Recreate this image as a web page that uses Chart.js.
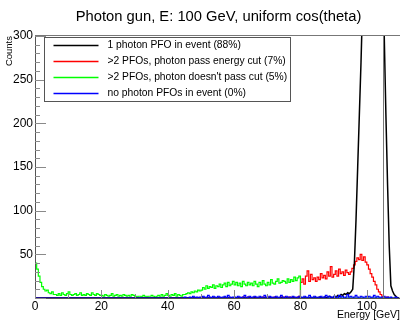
<!DOCTYPE html>
<html>
<head>
<meta charset="utf-8">
<script src="https://cdn.jsdelivr.net/npm/chart.js@4/dist/chart.umd.min.js"></script>
<style>
html,body{margin:0;padding:0;background:#fff;}
canvas{display:block;}
</style>
</head>
<body>
<canvas id="c" width="400" height="320"></canvas>
<script>
// ---- data (histogram, 0.5 GeV bins from 0 to 110 GeV) ----
const titleText = "Photon gun, E: 100 GeV, uniform cos(theta)";
const xTitle = "Energy [GeV]";
const yTitle = "Counts";
const binLow = 0;
const binWidth = 0.5;
const xTickLabels = [0, 20, 40, 60, 80, 100];
const xMinorTicks = [10, 30, 50, 70, 90, 110];
const yTickLabels = [50, 100, 150, 200, 250, 300];
const yMinorTicks = [10,20,30,40,60,70,80,90,110,120,130,140,160,170,180,190,210,220,230,240,260,270,280,290];

const seriesLabels = [
  "1 photon PFO in event (88%)",
  ">2 PFOs, photon pass energy cut (7%)",
  ">2 PFOs, photon doesn't pass cut (5%)",
  "no photon PFOs in event (0%)"
];

const blackCounts = [
  0,0,0,0,0,0,0,0,0,0, 0,0,0,0,0,0,0,0,0,0,
  0,0,0,0,0,0,0,0,0,0, 0,0,0,0,0,0,0,0,0,0,
  0,0,0,0,0,0,0,0,0,0, 0,0,0,0,0,0,0,0,0,0,
  0,0,0,0,0,0,0,0,0,0, 0,0,0,0,0,0,0,0,0,0,
  0,0,0,0,0,0,0,0,0,0, 0,0,0,0,0,0,0,0,0,0,
  0,0,0,0,0,0,0,0,0,0, 0,0,0,0,0,0,0,0,0,0,
  0,0,0,0,0,0,0,0,0,0, 0,0,0,0,0,0,0,0,0,0,
  0,0,0,0,0,0,0,0,0,0, 0,0,0,0,0,0,0,0,0,0,
  0,0,0,0,0,0,0,0,0,0, 0,1,0,0,1,0,1,2,1,0,
  2,1,3,2,4,3,5,4,6,5, 7,10,40,90,150,210,270,340,480,650,
  800,900,950,920,850,760,680,600,520,400, 300,210,130,60,14,8,4,2,0,0
];

const redCounts = [
  0,0,0,0,0,0,0,0,0,0, 0,0,0,0,0,0,0,0,0,0,
  0,0,0,0,0,0,0,0,0,0, 0,0,0,0,0,0,0,0,0,0,
  0,0,0,0,0,0,0,0,0,0, 0,0,0,0,0,0,0,0,0,0,
  0,0,0,0,0,0,0,0,0,0, 0,0,0,0,0,0,0,0,0,0,
  0,0,0,0,0,0,0,0,0,0, 0,0,0,0,0,0,0,0,0,0,
  0,0,0,0,0,0,0,0,0,0, 0,0,0,0,0,0,0,0,0,0,
  0,0,0,0,0,1,0,0,1,0, 0,0,1,0,0,0,0,1,0,0,
  0,1,0,0,1,0,0,0,1,0, 1,0,0,1,0,1,0,0,1,2,
  18,22,16,25,31,19,27,21,23,19, 24,21,28,23,26,22,30,25,36,24,
  27,31,25,33,28,30,26,32,29,27, 30,34,38,42,46,44,50,43,47,41,
  38,33,28,24,19,15,10,7,4,2, 1,0,1,0,0,0,0,0,0,0
];

const greenCounts = [
  40,33,25,18,13,10,8,9,6,5, 7,4,4,3,5,3,6,4,3,5,
  7,4,3,4,5,3,4,6,3,4, 3,5,4,3,6,4,3,5,4,3,
  3,2,4,3,2,3,5,2,3,4, 2,3,2,4,3,2,3,2,4,3,
  2,1,2,2,1,3,2,1,2,2, 3,2,1,2,3,2,4,2,3,5,
  3,2,4,3,5,2,4,3,2,4, 4,5,6,5,7,6,8,7,9,8,
  9,12,10,14,11,13,12,15,11,14, 13,16,12,15,17,13,18,14,16,19,
  15,18,14,17,13,19,16,14,18,15, 17,14,19,16,13,18,15,20,16,14,
  18,15,21,17,16,19,22,17,18,20, 19,17,22,18,21,19,24,20,23,25,
  0,0,0,0,0,0,0,0,0,0, 0,0,0,0,0,0,0,0,0,0,
  0,0,0,0,0,0,0,0,0,0, 0,0,0,0,0,0,0,0,0,0,
  0,0,0,0,0,0,0,0,0,0, 0,0,0,0,0,0,0,0,0,0
];

const blueCounts = [
  0,0,0,0,0,0,0,0,0,0, 0,0,0,0,0,0,0,0,0,0,
  0,0,0,0,0,0,0,0,0,0, 0,0,0,0,0,0,0,0,0,0,
  0,0,0,0,0,0,0,0,0,0, 0,0,0,0,0,0,0,0,0,0,
  0,0,0,0,0,0,0,0,0,0, 0,0,0,0,0,0,0,0,0,0,
  0,0,0,0,0,0,0,0,0,0, 1,0,0,1,0,2,0,1,0,1,
  1,2,0,1,3,1,0,2,1,0, 2,1,0,1,2,0,3,1,0,1,
  1,0,2,1,0,1,3,0,1,2, 0,1,2,1,0,2,1,0,3,1,
  0,2,1,0,1,2,0,1,3,1, 0,2,1,1,0,2,1,0,1,2,
  1,0,2,1,0,3,1,0,2,1, 0,1,2,0,1,3,1,2,0,1,
  2,1,0,3,1,2,0,1,4,1, 2,0,1,3,1,0,2,1,0,2,
  1,2,0,1,3,0,2,1,0,1, 2,0,1,0,1,0,0,1,0,0
];

// ---- build chart ----
const FONT = '"Liberation Sans", Arial, Helvetica, sans-serif';
Chart.defaults.font.family = FONT;
Chart.defaults.color = '#000';

function toPoints(counts) {
  return counts.map((c, i) => ({ x: binLow + (i + 0.5) * binWidth, y: c }));
}

const seriesColors = ['#000000', '#ff0000', '#00ff00', '#0000ff'];
const allCounts = [blackCounts, redCounts, greenCounts, blueCounts];
const drawOrder = [1, 3, 2, 0];
const lineWidths = [1.5, 1.2, 1.2, 1.2];
const stepMode = [false, 'middle', 'middle', 'middle'];

const datasets = allCounts.map((counts, k) => ({
  label: seriesLabels[k],
  data: toPoints(counts),
  borderColor: seriesColors[k],
  backgroundColor: seriesColors[k],
  borderWidth: lineWidths[k],
  stepped: stepMode[k],
  tension: 0,
  pointRadius: 0,
  fill: false,
  order: drawOrder[k]
}));

const titlePlugin = {
  id: 'rootTitle',
  afterDraw(chart) {
    const { ctx, chartArea: a } = chart;
    ctx.save();
    ctx.font = '14.75px ' + FONT;
    ctx.fillStyle = '#000';
    ctx.textAlign = 'center';
    ctx.textBaseline = 'alphabetic';
    ctx.fillText(titleText, (a.left + a.right) / 2 + 1, 21);
    ctx.restore();
  }
};

const framePlugin = {
  id: 'rootFrame',
  afterDatasetsDraw(chart) {
    const { ctx, chartArea: a, scales: { x, y } } = chart;
    ctx.save();
    ctx.lineWidth = 1;
    ctx.strokeStyle = '#8a8a8a';
    const r = v => Math.round(v) + 0.5;
    ctx.beginPath();
    for (const v of [0, ...yTickLabels]) {
      const py = r(y.getPixelForValue(v));
      ctx.moveTo(a.left, py); ctx.lineTo(a.left + 11, py);
    }
    for (const v of yMinorTicks) {
      const py = r(y.getPixelForValue(v));
      ctx.moveTo(a.left, py); ctx.lineTo(a.left + 5, py);
    }
    for (const v of xTickLabels) {
      const px = r(x.getPixelForValue(v));
      ctx.moveTo(px, a.bottom); ctx.lineTo(px, a.bottom - 8);
    }
    for (const v of xMinorTicks) {
      const px = r(x.getPixelForValue(v));
      ctx.moveTo(px, a.bottom); ctx.lineTo(px, a.bottom - 4);
    }
    ctx.stroke();
    // frame top and inner right line
    ctx.strokeStyle = '#777';
    ctx.beginPath();
    const top = r(a.top) - 1;
    ctx.moveTo(a.left, top); ctx.lineTo(a.right, top);
    const px105 = r(x.getPixelForValue(105));
    ctx.moveTo(px105, a.top); ctx.lineTo(px105, a.bottom);
    ctx.stroke();
    ctx.restore();
  },
  afterDraw(chart) {
    // ROOT-style legend box
    const { ctx, chartArea: a } = chart;
    const bx = a.left + 9.5, by = a.top + 1.5, bw = 246, bh = 64;
    ctx.save();
    ctx.fillStyle = '#fff';
    ctx.fillRect(bx, by, bw, bh);
    ctx.strokeStyle = '#555';
    ctx.lineWidth = 1;
    ctx.strokeRect(bx, by, bw, bh);
    ctx.font = '10.3px ' + FONT;
    ctx.textBaseline = 'middle';
    ctx.textAlign = 'left';
    chart.data.datasets.forEach((ds, i) => {
      const cy = by + 7 + i * 16.2;
      ctx.strokeStyle = ds.borderColor;
      ctx.lineWidth = 1.3;
      ctx.beginPath();
      ctx.moveTo(bx + 9, Math.round(cy) + 0.5);
      ctx.lineTo(bx + 54, Math.round(cy) + 0.5);
      ctx.stroke();
      ctx.fillStyle = '#000';
      ctx.fillText(ds.label, bx + 63, cy + 0.5);
    });
    ctx.restore();
  }
};

new Chart(document.getElementById('c'), {
  type: 'line',
  data: { datasets },
  plugins: [titlePlugin, framePlugin],
  options: {
    responsive: false,
    animation: false,
    events: [],
    layout: { padding: { top: 36, right: 0, bottom: 0, left: 0 } },
    plugins: { legend: { display: false }, tooltip: { enabled: false }, title: { display: false } },
    scales: {
      x: {
        type: 'linear', min: 0, max: 110,
        grid: { display: false, drawTicks: false },
        border: { display: true, color: '#555', width: 1 },
        afterBuildTicks: s => { s.ticks = xTickLabels.map(v => ({ value: v })); },
        ticks: { font: { size: 12 }, color: '#000', padding: 1, maxRotation: 0, autoSkip: false },
        title: { display: true, text: xTitle, align: 'end', color: '#000', font: { size: 10.5, lineHeight: 1.0 }, padding: 0 },
        afterFit: s => { s.height = 22; }
      },
      y: {
        type: 'linear', min: 0, max: 300,
        grid: { display: false, drawTicks: false },
        border: { display: true, color: '#555', width: 1 },
        afterBuildTicks: s => { s.ticks = yTickLabels.map(v => ({ value: v })); },
        ticks: { font: { size: 12 }, color: '#000', padding: 2, autoSkip: false },
        title: { display: true, text: yTitle, align: 'end', color: '#000', font: { size: 9.5, lineHeight: 1.0 }, padding: { top: 5, bottom: 0 } },
        afterFit: s => { s.width = 35; }
      }
    }
  }
});
</script>
</body>
</html>
